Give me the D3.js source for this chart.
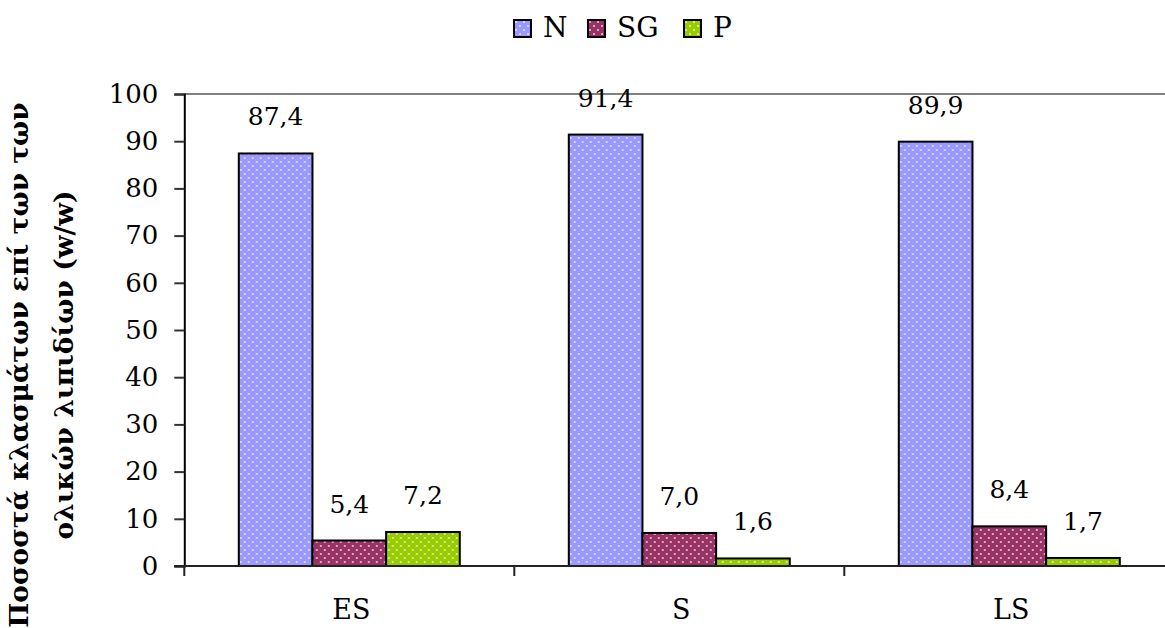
<!DOCTYPE html>
<html>
<head>
<meta charset="utf-8">
<script src="https://cdn.jsdelivr.net/npm/d3@7"></script>
<style>
  html, body { margin: 0; padding: 0; background: #fff; }
  svg { display: block; }
  text { font-family: "DejaVu Serif", "Liberation Serif", serif; fill: #000; }
</style>
</head>
<body>
<svg id="chart" width="1165" height="628"></svg>
<script>
// Lipid fractions per stage (% w/w of total lipids)
const categories = ["ES", "S", "LS"];
const seriesNames = ["N", "SG", "P"];
const seriesColors = ["#9999FF", "#993366", "#99CC00"];
const valuesN  = [87.4, 91.4, 89.9];
const valuesSG = [5.4, 7.0, 8.4];
const valuesP  = [7.2, 1.6, 1.7];
const yTicks = [0, 10, 20, 30, 40, 50, 60, 70, 80, 90, 100];
const yTitleLines = ["Ποσοστά κλασμάτων επί των των", "ολικών λιπιδίων (w/w)"];

const seriesValues = [valuesN, valuesSG, valuesP];
const fmt = v => v.toFixed(1).replace(".", ",");

const svg = d3.select("#chart");
const defs = svg.append("defs");

// dotted fills, one per series
seriesColors.forEach((c, i) => {
  const p = defs.append("pattern")
    .attr("id", "dots" + i)
    .attr("patternUnits", "userSpaceOnUse")
    .attr("width", 8).attr("height", 8);
  p.append("rect").attr("width", 8).attr("height", 8).attr("fill", c);
  p.append("circle").attr("cx", 2).attr("cy", 2).attr("r", 0.9).attr("fill", "#fff").attr("opacity", 0.85);
  p.append("circle").attr("cx", 6).attr("cy", 6).attr("r", 0.9).attr("fill", "#fff").attr("opacity", 0.85);
});

const plot = { left: 184.3, right: 1174.3, top: 94, bottom: 566 };

const y = d3.scaleLinear().domain([0, 100]).range([plot.bottom, plot.top]);
const x0 = d3.scaleBand().domain(categories).range([plot.left, plot.right])
  .paddingInner(0.3303).paddingOuter(0.3303 / 2);
const x1 = d3.scaleBand().domain(seriesNames).range([0, x0.bandwidth()]).padding(0);

// plot area top border
svg.append("line")
  .attr("x1", plot.left).attr("x2", plot.right)
  .attr("y1", y(100)).attr("y2", y(100))
  .attr("stroke", "#808080").attr("stroke-width", 2);

// bars
const groups = svg.append("g").selectAll("g")
  .data(categories).join("g")
  .attr("transform", d => `translate(${x0(d)},0)`);

groups.each(function(cat, ci) {
  const g = d3.select(this);
  seriesNames.forEach((s, si) => {
    const v = seriesValues[si][ci];
    g.append("rect")
      .attr("x", x1(s)).attr("width", x1.bandwidth())
      .attr("y", y(v)).attr("height", y(0) - y(v))
      .attr("fill", `url(#dots${si})`)
      .attr("stroke", "#000").attr("stroke-width", 2);
    g.append("text")
      .attr("x", x1(s) + x1.bandwidth() / 2)
      .attr("y", y(v) - 28)
      .attr("text-anchor", "middle")
      .attr("font-size", 25)
      .text(fmt(v));
  });
});

// y axis
const yAxis = d3.axisLeft(y).tickValues(yTicks).tickSize(10).tickPadding(16);
const gy = svg.append("g").attr("transform", `translate(${plot.left},0)`).call(yAxis);
gy.select(".domain").attr("stroke", "#000").attr("stroke-width", 2);
gy.selectAll(".tick line").attr("stroke", "#333").attr("stroke-width", 2);
gy.selectAll(".tick text").attr("font-size", 26).attr("fill", "#000");

// x axis with boundary ticks between categories
const gx = svg.append("g");
gx.append("line")
  .attr("x1", plot.left - 10).attr("x2", plot.right)
  .attr("y1", y(0)).attr("y2", y(0))
  .attr("stroke", "#222").attr("stroke-width", 2);
const bounds = categories.map(c => x0(c) - x0.step() * x0.paddingInner() / 2);
gx.selectAll("line.bt").data(bounds).join("line")
  .attr("class", "bt")
  .attr("x1", d => d).attr("x2", d => d)
  .attr("y1", y(0)).attr("y2", y(0) + 10)
  .attr("stroke", "#222").attr("stroke-width", 2);
gx.selectAll("text").data(categories).join("text")
  .attr("x", d => x0(d) + x0.bandwidth() / 2 + 2)
  .attr("y", 619)
  .attr("text-anchor", "middle")
  .attr("font-size", 27)
  .text(d => d);

// y axis title
const title = svg.append("text")
  .attr("transform", "translate(0,365) rotate(-90)")
  .attr("text-anchor", "middle")
  .attr("font-weight", "bold")
  .attr("font-size", 26.5);
yTitleLines.forEach((t, i) => {
  title.append("tspan").attr("x", 0).attr("y", 28 + i * 45).text(t);
});

// legend
const legendX = [514, 588, 684];
const legend = svg.append("g").selectAll("g")
  .data(seriesNames).join("g")
  .attr("transform", (d, i) => `translate(${legendX[i]},20)`);
legend.append("rect")
  .attr("width", 17).attr("height", 17)
  .attr("fill", (d, i) => `url(#dots${i})`)
  .attr("stroke", "#000").attr("stroke-width", 2);
legend.append("text")
  .attr("x", 29).attr("y", 17)
  .attr("font-size", 28)
  .text(d => d);
</script>
</body>
</html>
